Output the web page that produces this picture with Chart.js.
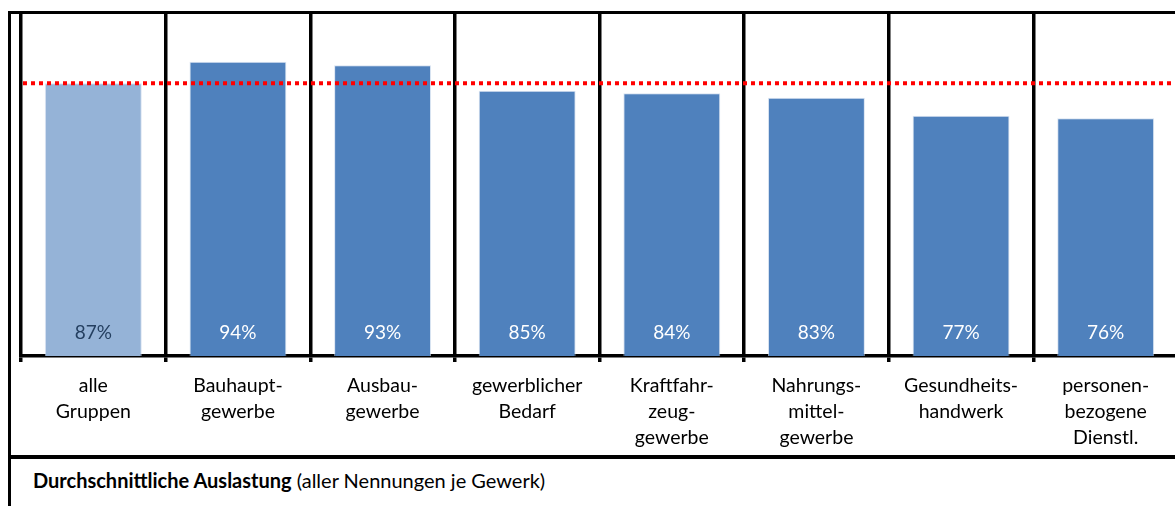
<!DOCTYPE html>
<html>
<head>
<meta charset="utf-8">
<script src="https://cdn.jsdelivr.net/npm/chart.js@4/dist/chart.umd.min.js"></script>
<style>
  html, body { margin: 0; padding: 0; background: #fff; overflow: hidden; width: 1175px; height: 506px; }
  #frame { position: absolute; left: 8px; top: 11px; width: 1300px; height: 600px; border-left: 3px solid #000; border-top: 3px solid #000; }
  #sep { position: absolute; left: 8px; top: 455px; width: 1300px; height: 4px; background: #000; }
  #wrap { position: absolute; left: 0; top: 0; width: 1180px; height: 455px; }
  #footer { position: absolute; left: 33px; top: 468px; font-family: Lato, "Open Sans", sans-serif; font-size: 20px; line-height: 24px; color: #000; white-space: nowrap; }
</style>
</head>
<body>
<div id="frame"></div>
<div id="sep"></div>
<div id="wrap"><canvas id="c" width="1180" height="455"></canvas></div>
<div id="footer"><b>Durchschnittliche Auslastung</b> (aller Nennungen je Gewerk)</div>
<script>
const categories = [
  ["alle", "Gruppen"],
  ["Bauhaupt-", "gewerbe"],
  ["Ausbau-", "gewerbe"],
  ["gewerblicher", "Bedarf"],
  ["Kraftfahr-", "zeug-", "gewerbe"],
  ["Nahrungs-", "mittel-", "gewerbe"],
  ["Gesundheits-", "handwerk"],
  ["personen-", "bezogene", "Dienstl."]
];
const auslastung = [87.2, 94.1, 93.0, 84.8, 84.0, 82.6, 76.8, 76.0];
const durchschnitt = 87.2;
const barColors = ["#95B3D7", "#4F81BD", "#4F81BD", "#4F81BD", "#4F81BD", "#4F81BD", "#4F81BD", "#4F81BD"];
const valueLabelColors = ["#243F60", "#FFFFFF", "#FFFFFF", "#FFFFFF", "#FFFFFF", "#FFFFFF", "#FFFFFF", "#FFFFFF"];

const FONT = "Lato";

const avgLinePlugin = {
  id: "avgLine",
  afterDatasetsDraw(chart) {
    const { ctx, chartArea, scales } = chart;
    const y = scales.y.getPixelForValue(durchschnitt);
    ctx.save();
    ctx.strokeStyle = "#FF0000";
    ctx.lineWidth = 4;
    ctx.setLineDash([4, 4]);
    ctx.beginPath();
    ctx.moveTo(chartArea.left + 2, y);
    ctx.lineTo(chartArea.right, y);
    ctx.stroke();
    ctx.restore();
  }
};

const valueLabelPlugin = {
  id: "valueLabels",
  afterDatasetsDraw(chart) {
    const { ctx } = chart;
    const meta = chart.getDatasetMeta(0);
    ctx.save();
    ctx.font = "19px " + FONT;
    ctx.textAlign = "center";
    ctx.textBaseline = "middle";
    meta.data.forEach((bar, i) => {
      ctx.fillStyle = valueLabelColors[i];
      ctx.fillText(Math.round(auslastung[i]) + "%", bar.x, bar.base - 23);
    });
    ctx.restore();
  }
};

new Chart(document.getElementById("c"), {
  type: "bar",
  data: {
    labels: categories,
    datasets: [{
      data: auslastung,
      backgroundColor: barColors,
      borderColor: "rgba(200,215,235,0.7)",
      borderWidth: 1,
      categoryPercentage: 1,
      barPercentage: 0.67
    }]
  },
  options: {
    responsive: false,
    animation: false,
    devicePixelRatio: 1,
    layout: { padding: { left: 21, top: 12, right: 2, bottom: 0 } },
    plugins: { legend: { display: false }, tooltip: { enabled: false } },
    scales: {
      y: { display: false, min: 0, max: 110 },
      x: {
        offset: true,
        grid: { offset: true, color: "#000", lineWidth: 3.5, tickLength: 6, drawOnChartArea: true },
        border: { display: true, color: "#000", width: 3.5 },
        ticks: {
          color: "#000",
          padding: 11,
          maxRotation: 0,
          autoSkip: false,
          font: { family: FONT, size: 19.5, lineHeight: 1.33 }
        },
        afterFit(scale) { scale.height = 99; }
      }
    }
  },
  plugins: [avgLinePlugin, valueLabelPlugin]
});
</script>
</body>
</html>
